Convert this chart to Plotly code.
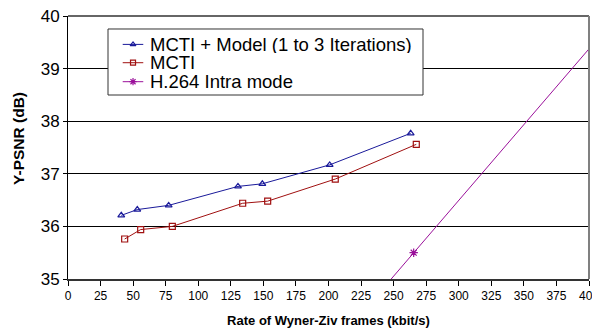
import plotly.graph_objects as go

model_x = [40.9, 53.2, 77.3, 130.5, 149.2, 200.9, 263.1]
model_y = [36.21, 36.32, 36.40, 36.76, 36.81, 37.17, 37.77]

mcti_x = [43.5, 55.8, 80.1, 134.1, 153.3, 205.2, 267.4]
mcti_y = [35.76, 35.94, 36.00, 36.44, 36.48, 36.90, 37.56]

h264_x = [220.0, 265.4, 430.0]
h264_y = [34.19, 35.50, 40.24]

series_names = ["MCTI + Model (1 to 3 Iterations)", "MCTI", "H.264 Intra mode"]
x_ticks = list(range(0, 401, 25))
y_ticks = [35, 36, 37, 38, 39, 40]

FONT = "Liberation Sans"
COLORS = ["#1a1a9a", "#a01010", "#9a109a"]
SYMBOLS = ["triangle-up-open", "square-open", "asterisk-open"]

fig = go.Figure()
for xs, ys, name, c, s in zip([model_x, mcti_x, h264_x], [model_y, mcti_y, h264_y],
                              series_names, COLORS, SYMBOLS):
    fig.add_trace(go.Scatter(x=xs, y=ys, mode="lines+markers", name=name,
                             showlegend=False,
                             line=dict(color=c, width=1),
                             marker=dict(symbol=s, size=6 if s != "asterisk-open" else 7,
                                         color=c, line=dict(width=1.2, color=c))))

# ---- hand-built legend on a hidden overlay axis (0..1 = plot area) ----
box_x0, box_x1, box_y0, box_y1 = 0.0768, 0.6814, 0.6996, 0.9506
row_y = [0.892, 0.8224, 0.7502]
samp_x0, samp_xm, samp_x1 = 0.105, 0.1248, 0.1445
text_x = 0.1555

fig.add_trace(go.Scatter(x=[box_x0, box_x1, box_x1, box_x0, box_x0],
                         y=[box_y0, box_y0, box_y1, box_y1, box_y0],
                         xaxis="x2", yaxis="y2", mode="lines", fill="toself",
                         fillcolor="white", line=dict(color="#333333", width=1),
                         showlegend=False, hoverinfo="skip"))
for ry, name, c, s in zip(row_y, series_names, COLORS, SYMBOLS):
    fig.add_trace(go.Scatter(x=[samp_x0, samp_x1], y=[ry, ry], xaxis="x2", yaxis="y2",
                             mode="lines", line=dict(color=c, width=1),
                             showlegend=False, hoverinfo="skip"))
    fig.add_trace(go.Scatter(x=[samp_xm], y=[ry], xaxis="x2", yaxis="y2",
                             mode="markers",
                             marker=dict(symbol=s, size=5 if s != "asterisk-open" else 6,
                                         color=c, line=dict(width=1.2, color=c)),
                             showlegend=False, hoverinfo="skip"))
    fig.add_annotation(x=text_x, y=ry, xref="paper", yref="paper", text=name,
                       showarrow=False, xanchor="left", yanchor="middle",
                       height=17, borderpad=0, valign="middle",
                       font=dict(size=18.5, family=FONT, color="black"))

# y axis title as an annotation for exact placement
fig.add_annotation(x=-0.096, y=0.536, xref="paper", yref="paper",
                   text="<b>Y-PSNR (dB)</b>", textangle=-90, showarrow=False,
                   xanchor="center", yanchor="middle",
                   font=dict(size=15.5, family=FONT, color="black"))

# the page adds an 8px body margin, so the figure is drawn 8px smaller
fig.update_layout(
    width=592, height=323,
    margin=dict(l=60, r=11, t=8, b=52, autoexpand=False),
    paper_bgcolor="white", plot_bgcolor="white",
    font=dict(family=FONT, color="black"),
    showlegend=False,
    xaxis=dict(range=[0, 400], tickvals=x_ticks, ticks="outside", ticklen=5,
               tickcolor="black", tickfont=dict(size=12), automargin=False,
               ticklabeloverflow="allow",
               showgrid=False, zeroline=False,
               showline=True, linecolor="#333333", linewidth=2, mirror=False,
               title=dict(text="<b>Rate of Wyner-Ziv frames (kbit/s)</b>", font=dict(size=13), standoff=13)),
    yaxis=dict(range=[35, 40], tickvals=y_ticks, ticks="outside", ticklen=4,
               tickcolor="black", tickfont=dict(size=17), automargin=False,
               ticklabeloverflow="allow",
               showgrid=True, gridcolor="black", gridwidth=1, zeroline=False,
               showline=True, linecolor="black", linewidth=1),
    xaxis2=dict(range=[0, 1], overlaying="x", anchor="y2", visible=False, fixedrange=True),
    yaxis2=dict(range=[0, 1], overlaying="y", anchor="x2", visible=False, fixedrange=True),
)

# top and right frame lines
fig.add_shape(type="line", xref="paper", yref="paper", x0=0, x1=1, y0=1, y1=1,
              line=dict(color="#333333", width=1.5))
fig.add_shape(type="line", xref="paper", yref="paper", x0=1, x1=1, y0=0, y1=1,
              line=dict(color="#808080", width=2))

fig.write_html("out.html")
